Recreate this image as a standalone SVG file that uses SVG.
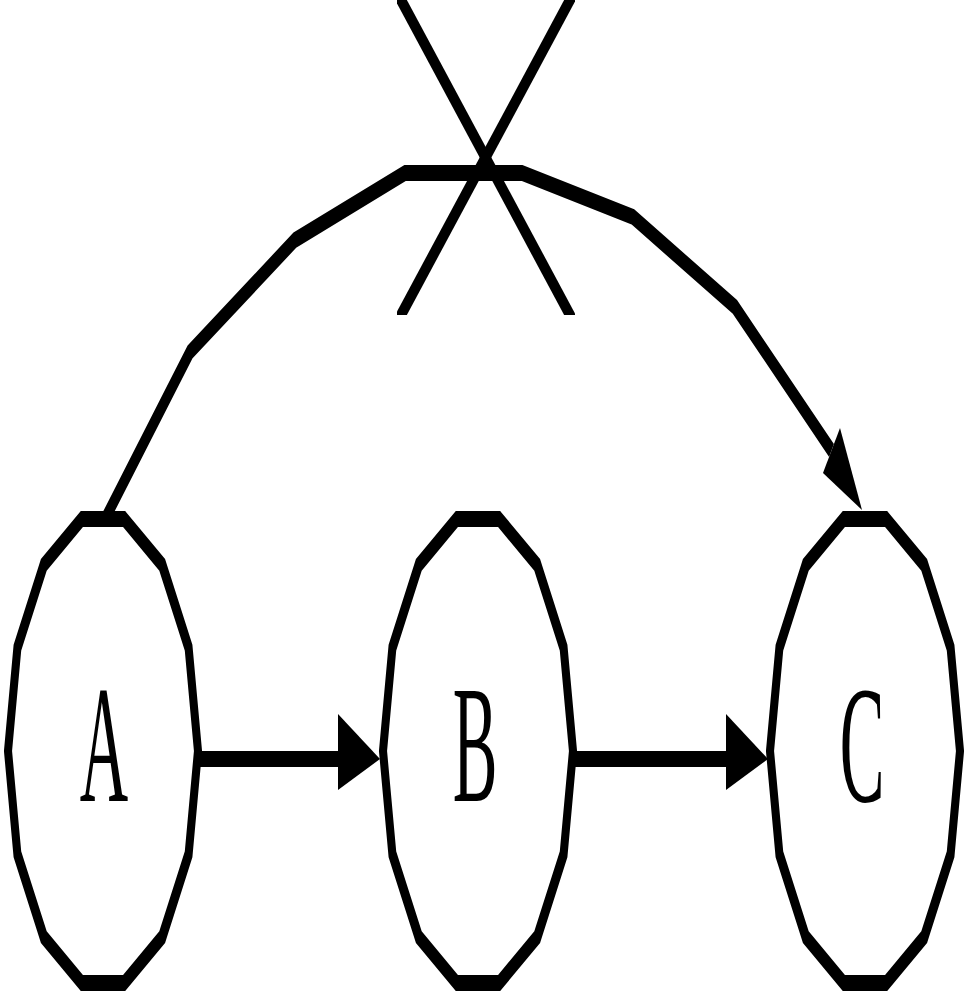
<svg xmlns="http://www.w3.org/2000/svg" width="971" height="993" viewBox="0 0 971 993">
<style>
.node{fill:#fff;stroke:#000;stroke-width:8;stroke-linejoin:miter;stroke-miterlimit:10}
.edge{fill:none;stroke:#000;stroke-width:8;stroke-linejoin:miter;stroke-miterlimit:10}
.head{fill:#000;stroke:none}
.lbl{font-family:"Liberation Serif","Times New Roman",serif;font-size:67px;text-anchor:middle;fill:#000}
</style>
<defs>
<clipPath id="xclip" clipPathUnits="userSpaceOnUse"><rect x="397" y="-20" width="178" height="177.5"/></clipPath>
</defs>
<rect width="971" height="993" fill="#fff"/>
<g id="node-A">
<polygon class="node" transform="matrix(1,0,0,2,103,751)" points="21.1,-116 59.2,-93.05 85.6,-51.65 95,0 85.6,51.65 59.2,93.05 21.1,116 -21.1,116 -59.2,93.05 -85.6,51.65 -95,0 -85.6,-51.65 -59.2,-93.05 -21.1,-116"/>
<text class="lbl" transform="matrix(1,0,0,2.5,104,801)">A</text>
</g>
<g id="node-B">
<polygon class="node" transform="matrix(1,0,0,2,478,751)" points="21.1,-116 59.2,-93.05 85.6,-51.65 95,0 85.6,51.65 59.2,93.05 21.1,116 -21.1,116 -59.2,93.05 -85.6,51.65 -95,0 -85.6,-51.65 -59.2,-93.05 -21.1,-116"/>
<text class="lbl" transform="matrix(1,0,0,2.5,475,801)">B</text>
</g>
<g id="node-C">
<polygon class="node" transform="matrix(1,0,0,2,865,751)" points="21.1,-116 59.2,-93.05 85.6,-51.65 95,0 85.6,51.65 59.2,93.05 21.1,116 -21.1,116 -59.2,93.05 -85.6,51.65 -95,0 -85.6,-51.65 -59.2,-93.05 -21.1,-116"/>
<text class="lbl" transform="matrix(1,0,0,2.5,862,801)">C</text>
</g>
<g id="edges" transform="scale(1,2)">
<g id="edge-A-B">
<line class="edge" x1="198" y1="379.5" x2="340" y2="379.5"/>
<polygon class="head" points="338,357 338,395 380,379.5"/>
</g>
<g id="edge-B-C">
<line class="edge" x1="573" y1="379.5" x2="728" y2="379.5"/>
<polygon class="head" points="726,357 726,395 768,379.5"/>
</g>
<g id="edge-A-C">
<polyline class="edge" points="105,259.5 190,176 295,120 405,86.5 522,86.5 633,108.5 735,153.5 831.5,225.25"/>
<polygon class="head" points="862,255 840,214 823,236.5"/>
<g clip-path="url(#xclip)">
<line class="edge" x1="384.1" y1="-15.75" x2="586.9" y2="173.25"/>
<line class="edge" x1="586.9" y1="-15.75" x2="384.1" y2="173.25"/>
</g>
</g>
</g>
</svg>
